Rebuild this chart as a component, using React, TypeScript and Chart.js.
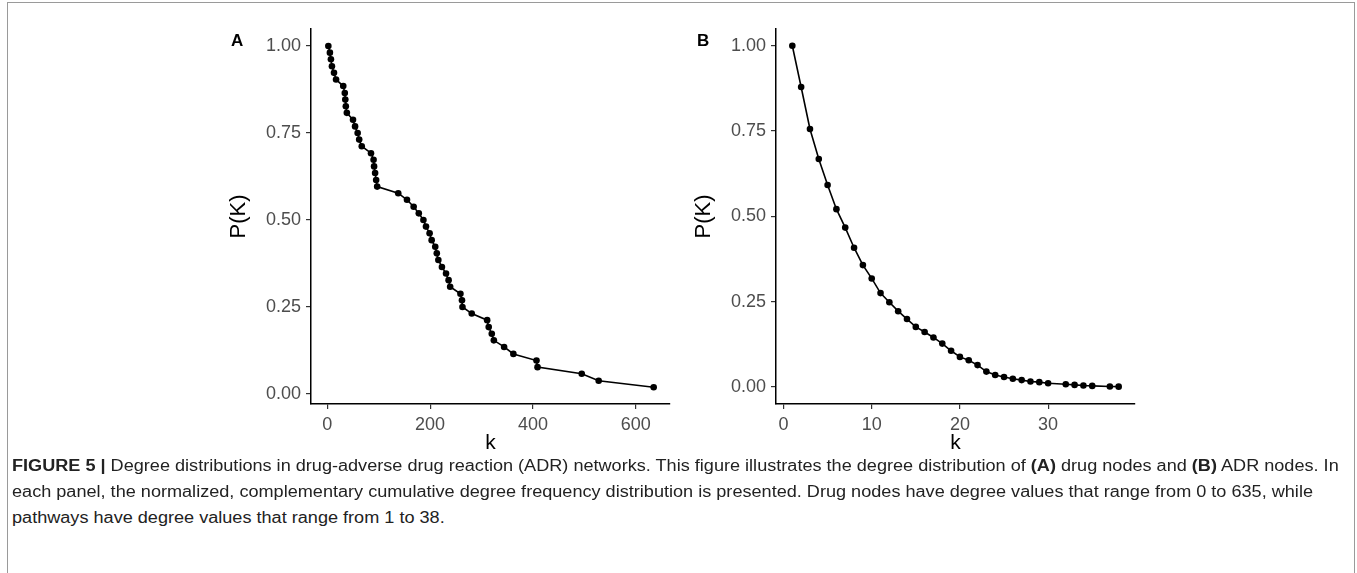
import React, { useEffect, useRef, useMemo } from "react";
import { Chart, registerables } from "chart.js";
Chart.register(...registerables);

// ---- Panel A: drug nodes (k, P(K)) ----
const drugK = [2, 5, 7, 9, 13, 17, 31, 34, 35, 36, 38, 50, 54, 59, 62, 67, 85, 90, 91, 93, 95, 97, 138, 155, 168, 178, 187, 192, 199, 203, 210, 213, 216, 223, 231, 236, 239, 259, 262, 263, 281, 311, 314, 320, 324, 344, 362, 407, 409, 495, 528, 635];
const drugP = [1.0, 0.981, 0.962, 0.942, 0.923, 0.904, 0.885, 0.865, 0.846, 0.827, 0.808, 0.788, 0.769, 0.75, 0.731, 0.712, 0.692, 0.673, 0.654, 0.635, 0.615, 0.596, 0.577, 0.558, 0.538, 0.519, 0.5, 0.481, 0.462, 0.442, 0.423, 0.404, 0.385, 0.365, 0.346, 0.327, 0.308, 0.288, 0.269, 0.25, 0.231, 0.212, 0.192, 0.173, 0.154, 0.135, 0.115, 0.096, 0.077, 0.058, 0.038, 0.019];
const drugXTicks = [0, 200, 400, 600];

// ---- Panel B: ADR nodes ----
const adrK = [1, 2, 3, 4, 5, 6, 7, 8, 9, 10, 11, 12, 13, 14, 15, 16, 17, 18, 19, 20, 21, 22, 23, 24, 25, 26, 27, 28, 29, 30, 32, 33, 34, 35, 37, 38];
const adrP = [1.0, 0.879, 0.756, 0.668, 0.592, 0.521, 0.467, 0.408, 0.357, 0.318, 0.275, 0.248, 0.222, 0.199, 0.176, 0.161, 0.145, 0.127, 0.106, 0.088, 0.078, 0.064, 0.045, 0.035, 0.029, 0.024, 0.02, 0.016, 0.014, 0.011, 0.008, 0.006, 0.004, 0.003, 0.0015, 0.0008];
const adrXTicks = [0, 10, 20, 30];

const yTicks = [0, 0.25, 0.5, 0.75, 1.0];

const FONT = "'Liberation Sans', Arial, Helvetica, sans-serif";
const CAP_FONT = "'Liberation Sans Narrow', 'Liberation Sans', Arial, sans-serif";

type Seg = { t: string; b?: boolean };
const captionLines: Seg[][] = [
  [
    { t: "FIGURE 5 |", b: true },
    { t: " Degree distributions in drug-adverse drug reaction (ADR) networks. This figure illustrates the degree distribution of " },
    { t: "(A)", b: true },
    { t: " drug nodes and " },
    { t: "(B)", b: true },
    { t: " ADR nodes. In" },
  ],
  [{ t: "each panel, the normalized, complementary cumulative degree frequency distribution is presented. Drug nodes have degree values that range from 0 to 635, while" }],
  [{ t: "pathways have degree values that range from 1 to 38." }],
];

type PanelProps = {
  left: number;
  ks: number[];
  ps: number[];
  xTicks: number[];
  xMin: number;
  xMax: number;
  yMin: number;
  yMax: number;
};

const CH = 458;

function Panel({ left, ks, ps, xTicks, xMin, xMax, yMin, yMax }: PanelProps) {
  const ref = useRef<HTMLCanvasElement>(null);
  useEffect(() => {
    if (!ref.current) return;
    const chart = new Chart(ref.current, {
      type: "line",
      data: {
        datasets: [
          {
            data: ks.map((k, i) => ({ x: k, y: ps[i] })),
            borderColor: "#000",
            backgroundColor: "#000",
            borderWidth: 1.6,
            pointRadius: 3.3,
            pointBorderWidth: 0,
            pointBackgroundColor: "#000",
            tension: 0,
            fill: false,
            clip: false as any,
          },
        ],
      },
      options: {
        animation: false,
        responsive: false,
        maintainAspectRatio: false,
        events: [],
        layout: { padding: { top: 29, right: 10, left: 0, bottom: 0 } },
        plugins: { legend: { display: false }, tooltip: { enabled: false } },
        scales: {
          x: {
            type: "linear",
            min: xMin,
            max: xMax,
            afterBuildTicks: (s: any) => {
              s.ticks = xTicks.map((v) => ({ value: v }));
            },
            afterFit: (s: any) => {
              s.height = CH - 404;
            },
            grid: { drawOnChartArea: false, drawTicks: true, tickLength: 5, color: "#333", lineWidth: 1.2 },
            border: { display: true, color: "#000", width: 1.5 },
            ticks: {
              color: "#4d4d4d",
              font: { family: FONT, size: 18 },
              padding: 5,
              maxRotation: 0,
              autoSkip: false,
              callback: (v: any) => String(v),
            },
            title: { display: true, text: "k", color: "#000", font: { family: FONT, size: 21 }, padding: { top: 0, bottom: 2 } },
          },
          y: {
            type: "linear",
            min: yMin,
            max: yMax,
            afterBuildTicks: (s: any) => {
              s.ticks = yTicks.map((v) => ({ value: v }));
            },
            afterFit: (s: any) => {
              s.width = 91;
            },
            grid: { drawOnChartArea: false, drawTicks: true, tickLength: 5, color: "#333", lineWidth: 1.2 },
            border: { display: true, color: "#000", width: 1.5 },
            ticks: {
              color: "#4d4d4d",
              font: { family: FONT, size: 18 },
              padding: 5,
              autoSkip: false,
              callback: (v: any) => Number(v).toFixed(2),
            },
            title: { display: true, text: "P(K)", color: "#000", font: { family: FONT, size: 22 }, padding: { top: 6, bottom: 0 } },
          },
        },
      },
    } as any);
    return () => chart.destroy();
  }, []);
  return (
    <div style={{ position: "absolute", left, top: 0, width: 460, height: CH }}>
      <canvas ref={ref} width={460} height={CH} style={{ width: 460, height: CH, display: "block" }} />
    </div>
  );
}

function Caption() {
  const scale = useMemo(() => {
    const c = document.createElement("canvas");
    const ctx = c.getContext("2d");
    if (!ctx) return 1;
    let w = 0;
    for (const s of captionLines[0]) {
      ctx.font = `${s.b ? "bold " : ""}16px ${CAP_FONT}`;
      w += ctx.measureText(s.t).width;
    }
    return 1328 / w;
  }, []);
  const tops = [453, 479, 505];
  return (
    <>
      {captionLines.map((line, i) => (
        <div
          key={i}
          style={{
            position: "absolute",
            left: 12,
            top: tops[i],
            height: 26,
            lineHeight: "26px",
            fontFamily: CAP_FONT,
            fontSize: 16,
            color: "#222",
            whiteSpace: "pre",
            transform: `scaleX(${scale})`,
            transformOrigin: "0 0",
          }}
        >
          {line.map((s, j) => (
            <span key={j} style={{ fontWeight: s.b ? "bold" : "normal" }}>
              {s.t}
            </span>
          ))}
        </div>
      ))}
    </>
  );
}

export default function App() {
  const labelStyle: React.CSSProperties = {
    position: "absolute",
    top: 31,
    fontFamily: FONT,
    fontWeight: "bold",
    fontSize: 17,
    lineHeight: "20px",
    color: "#000",
  };
  return (
    <div style={{ position: "absolute", left: 0, top: 0, width: 1357, height: 573, background: "#fff", overflow: "hidden" }}>
      <div style={{ position: "absolute", left: 7, top: 2, width: 1346, height: 620, border: "1px solid #9a9a9a" }} />
      <Panel left={220} ks={drugK} ps={drugP} xTicks={drugXTicks} xMin={-31.75} xMax={666.75} yMin={-0.029} yMax={1.049} />
      <Panel left={685} ks={adrK} ps={adrP} xTicks={adrXTicks} xMin={-0.85} xMax={39.85} yMin={-0.05} yMax={1.049} />
      <div style={{ ...labelStyle, left: 231 }}>A</div>
      <div style={{ ...labelStyle, left: 697 }}>B</div>
      <Caption />
    </div>
  );
}
